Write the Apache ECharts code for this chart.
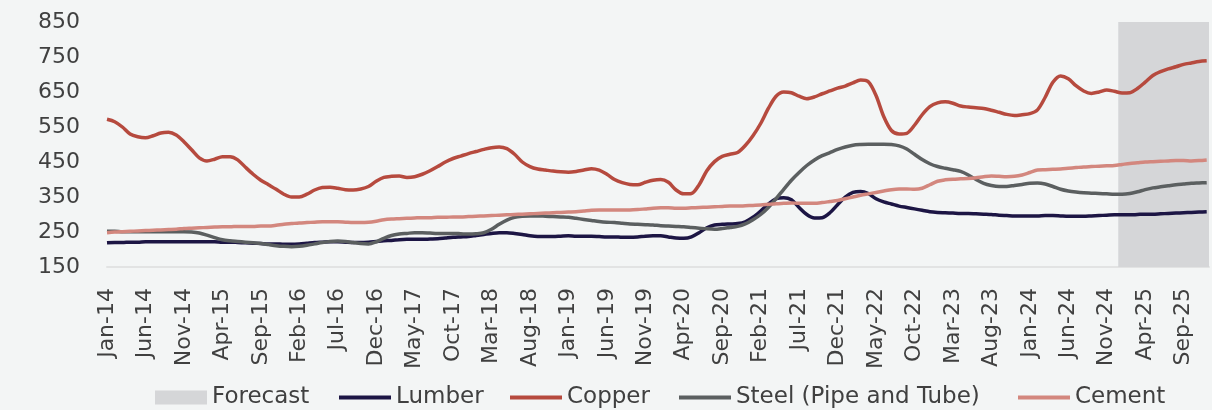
<!DOCTYPE html>
<html>
<head>
<meta charset="utf-8">
<script src="https://cdn.jsdelivr.net/npm/echarts@6/dist/echarts.min.js"></script>
<style>
  html, body { margin: 0; padding: 0; background: #f3f5f5; }
  #chart { width: 1212px; height: 410px; }
</style>
</head>
<body>
<div id="chart"></div>
<script>
// tick labels, one every 5 months from Jan-14 (index 0)
var tickLabels = ['Jan-14', 'Jun-14', 'Nov-14', 'Apr-15', 'Sep-15', 'Feb-16', 'Jul-16', 'Dec-16',
    'May-17', 'Oct-17', 'Mar-18', 'Aug-18', 'Jan-19', 'Jun-19', 'Nov-19', 'Apr-20', 'Sep-20',
    'Feb-21', 'Jul-21', 'Dec-21', 'May-22', 'Oct-22', 'Mar-23', 'Aug-23', 'Jan-24', 'Jun-24',
    'Nov-24', 'Apr-25', 'Sep-25'];

// forecast window (month index), Jan-25 .. Dec-25
var forecastRange = [131.5, 143.3];

// monthly values Jan-14 .. Dec-25
var lumber = [
    219, 220, 220, 221, 221, 222, 222, 222, 222, 222, 222, 222,
    222, 222, 222, 221, 221, 220, 219, 218, 217, 216, 216, 215,
    215, 216, 218, 220, 221, 222, 222, 221, 220, 220, 221, 223,
    225, 226, 228, 229, 229, 229, 230, 231, 233, 235, 236, 237,
    240, 243, 246, 248, 248, 246, 243, 239, 237, 237, 237, 238,
    239, 238, 238, 238, 237, 236, 236, 235, 235, 236, 238, 239,
    239, 236, 233, 232, 236, 248, 262, 270, 272, 273, 274, 279,
    292, 310, 330, 345, 348, 342, 320, 300, 290, 291, 305, 328,
    350, 363, 366, 360, 345, 336, 330, 324, 320, 316, 312, 308,
    306, 305, 304, 303, 303, 302, 301, 300, 298, 297, 296, 296,
    296, 296, 297, 297, 296, 295, 295, 295, 296, 297, 298, 299,
    299, 299, 300, 301, 301, 302, 303, 304, 305, 306, 307, 308
];
var copper = [
    572, 565, 550, 530, 522, 519, 525, 533, 535, 527, 508, 485,
    462, 453, 458, 465, 465, 456, 435, 415, 398, 385, 372, 358,
    350, 350, 358, 370, 377, 378, 375, 371, 370, 373, 380, 395,
    406, 409, 410, 406, 408, 415, 425, 437, 450, 460, 467, 474,
    480, 486, 491, 493, 488, 472, 450, 437, 430, 427, 424, 422,
    421, 423, 427, 431, 427, 415, 400, 391, 386, 385, 392, 398,
    400, 392, 370, 359, 360, 385, 425, 451, 466, 472, 477, 497,
    525, 560, 603, 638, 650, 648, 638, 631, 636, 645, 653, 661,
    667, 676, 684, 679, 640, 580, 540, 530, 532, 555, 585, 608,
    619, 622, 618, 610, 607, 605, 603, 598, 592, 586, 583, 585,
    588, 599, 635, 678, 696, 688, 668, 653, 646, 650, 656, 652,
    647, 648, 660, 678, 697, 708, 716, 722, 729, 733, 737, 739
];
var steel = [
    252, 252, 251, 251, 251, 251, 251, 251, 251, 251, 251, 250,
    247, 241, 234, 228, 225, 223, 221, 219, 217, 214, 211, 209,
    208, 209, 212, 216, 220, 223, 224, 223, 220, 217, 216, 222,
    232, 240, 244, 246, 248, 248, 247, 246, 246, 246, 245, 244,
    245, 248, 258, 272, 284, 292, 295, 296, 296, 295, 294, 293,
    292, 289, 286, 283, 280, 278, 277, 275, 273, 272, 271, 270,
    268, 267, 266, 265, 263, 261, 259, 258, 260, 263, 266, 273,
    285, 300, 320, 345, 372, 398, 420, 440, 456, 468, 477, 486,
    493, 498, 500, 501, 501, 501, 500, 496, 487, 472, 457, 445,
    437, 432, 428, 423, 413, 400, 389, 383, 380, 380, 383, 386,
    389, 390, 387, 380, 372, 367, 364, 362, 361, 360, 359, 358,
    358, 360, 365, 371, 376, 379, 382, 385, 387, 389, 390, 391
];
var cement = [
    248, 250, 251, 252, 253, 254, 255, 256, 257, 258, 260, 261,
    262, 263, 264, 265, 265, 266, 266, 266, 267, 267, 269, 272,
    274, 276, 277, 278, 279, 279, 279, 278, 277, 277, 278, 281,
    285, 287, 288, 289, 290, 291, 291, 292, 292, 293, 293, 294,
    295, 296, 297, 298, 299, 300, 301, 302, 303, 304, 305, 306,
    307, 308, 310, 312, 313, 313, 313, 313, 313, 314, 316, 318,
    319, 319, 318, 318, 319, 320, 321, 322, 323, 324, 324, 325,
    326, 327, 329, 331, 332, 333, 332, 332, 332, 334, 337, 340,
    345, 350, 355, 359, 363, 367, 371, 373, 373, 372, 375, 385,
    395, 399, 401, 402, 403, 405, 408, 410, 409, 408, 409, 413,
    420, 427, 428, 429, 430, 432, 434, 436, 437, 438, 439, 440,
    443, 446, 448, 450, 451, 452, 453, 454, 454, 453, 454, 456
];

var FONT = '"DejaVu Sans", sans-serif';
var TEXT = '#404040';

function toPairs(arr) {
    var out = [];
    for (var i = 0; i < arr.length; i++) {
        out.push([i, arr[i]]);
    }
    return out;
}

function lineSeries(name, data, color) {
    return {
        name: name,
        type: 'line',
        data: toPairs(data),
        smooth: 0.3,
        symbol: 'none',
        lineStyle: { color: color, width: 3.5 },
        itemStyle: { color: color },
        z: 3
    };
}

// one legend per entry so each sits where the original puts it
function legendAt(left, item) {
    return {
        left: left,
        top: 386,
        padding: 0,
        itemWidth: 52,
        itemHeight: 14,
        itemGap: 0,
        textStyle: { fontSize: 23, color: TEXT, fontFamily: FONT },
        data: [item]
    };
}

// legend entry for a line: keep the stroke, hide the marker
function lineLegend(name) {
    return { name: name, itemStyle: { opacity: 0 }, lineStyle: { width: 4 } };
}

var chart = echarts.init(document.getElementById('chart'));

chart.setOption({
    backgroundColor: '#f3f5f5',
    animation: false,
    textStyle: { fontFamily: FONT },
    grid: { left: 107, right: 3, top: 22, bottom: 143 },
    xAxis: {
        type: 'value',
        min: 0,
        max: 143.3,
        interval: 5,
        splitLine: { show: false },
        axisTick: { show: false },
        axisLine: { show: true, lineStyle: { color: '#e2e3e3', width: 2 } },
        axisLabel: {
            rotate: 90,
            margin: 21,
            fontSize: 22,
            color: TEXT,
            fontFamily: FONT,
            showMaxLabel: false,
            formatter: function (v) {
                if (v % 5 !== 0) return '';
                return tickLabels[v / 5] || '';
            }
        }
    },
    yAxis: {
        type: 'value',
        min: 150,
        max: 850,
        interval: 100,
        splitLine: { show: false },
        axisLine: { show: false },
        axisTick: { show: false },
        axisLabel: { fontSize: 22, color: TEXT, margin: 27, fontFamily: FONT }
    },
    legend: [
        legendAt(155, { name: 'Forecast', icon: 'rect', itemStyle: { color: '#d5d6d8' } }),
        legendAt(337, lineLegend('Lumber')),
        legendAt(508, lineLegend('Copper')),
        legendAt(677, lineLegend('Steel (Pipe and Tube)')),
        legendAt(1016, lineLegend('Cement'))
    ],
    series: [
        {
            name: 'Forecast',
            type: 'line',
            data: [],
            symbol: 'none',
            itemStyle: { color: '#d5d6d8' },
            lineStyle: { color: '#d5d6d8' },
            markArea: {
                silent: true,
                itemStyle: { color: '#d5d6d8' },
                data: [[
                    { xAxis: forecastRange[0], yAxis: 850 },
                    { xAxis: forecastRange[1], yAxis: 150 }
                ]]
            },
            z: 1
        },
        lineSeries('Lumber', lumber, '#1c1544'),
        lineSeries('Copper', copper, '#b64a3e'),
        lineSeries('Steel (Pipe and Tube)', steel, '#5b5f60'),
        lineSeries('Cement', cement, '#d3877e')
    ]
});
</script>
</body>
</html>
